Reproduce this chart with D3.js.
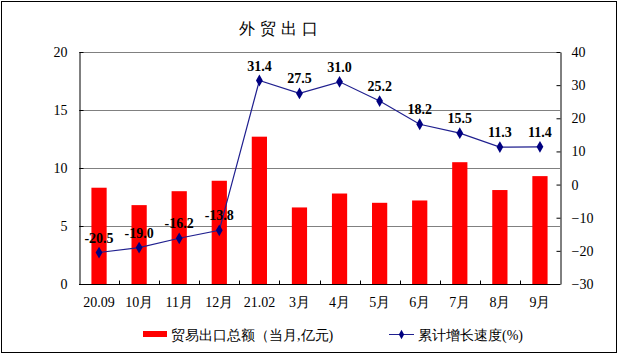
<!DOCTYPE html>
<html lang='zh'>
<head>
<meta charset='utf-8'>
<title>外贸出口</title>
<script src='https://cdn.jsdelivr.net/npm/d3@7'></script>
<style>
body { margin: 0; background: #fff; }
svg text { font-family: 'Liberation Serif', 'Times New Roman', serif; }
</style>
</head>
<body>
<script>
var months = ['20.09', '10月', '11月', '12月', '21.02', '3月', '4月', '5月', '6月', '7月', '8月', '9月'];
var exportValue = [8.3, 6.8, 8.0, 8.9, 12.7, 6.6, 7.8, 7.0, 7.2, 10.5, 8.1, 9.3];
var growthRate = [-20.5, -19.0, -16.2, -13.8, 31.4, 27.5, 31.0, 25.2, 18.2, 15.5, 11.3, 11.4];
var leftTicks = [0, 5, 10, 15, 20];
var rightTicks = [-30, -20, -10, 0, 10, 20, 30, 40];

var width = 618, height = 354;
var m = {left: 79, right: 58, top: 52, bottom: 70};
var svg = d3.select('body').append('svg').attr('width', width).attr('height', height);

svg.append('rect').attr('x', 1.5).attr('y', 1.5).attr('width', width - 3).attr('height', height - 3)
	.attr('fill', '#fff').attr('stroke', '#000').attr('stroke-width', 1);

var x = d3.scaleBand().domain(months).range([m.left, width - m.right]).paddingInner(0.62).paddingOuter(0.31);
var yL = d3.scaleLinear().domain([0, 20]).range([height - m.bottom, m.top]);
var yR = d3.scaleLinear().domain([-30, 40]).range([height - m.bottom, m.top]);

// gridlines
svg.append('g').selectAll('line').data(leftTicks.slice(1)).enter().append('line')
	.attr('x1', m.left).attr('x2', width - m.right)
	.attr('y1', d => Math.round(yL(d)) + 0.5).attr('y2', d => Math.round(yL(d)) + 0.5)
	.attr('stroke', '#808080').attr('stroke-width', 1);

// bars
svg.append('g').selectAll('rect').data(exportValue).enter().append('rect')
	.attr('x', (d, i) => x(months[i]))
	.attr('width', x.bandwidth())
	.attr('y', d => yL(d))
	.attr('height', d => yL(0) - yL(d))
	.attr('fill', '#ff0000');

// axes
var axL = svg.append('g').attr('transform', 'translate(' + (m.left + 0.5) + ',0)')
	.call(d3.axisLeft(yL).tickValues(leftTicks).tickSizeInner(-4).tickSizeOuter(0).tickPadding(12));
var axR = svg.append('g').attr('transform', 'translate(' + (width - m.right + 0.5) + ',0)')
	.call(d3.axisRight(yR).tickValues(rightTicks).tickSizeInner(-4).tickSizeOuter(0).tickPadding(11));
var xBand = d3.scalePoint().domain(d3.range(13)).range([m.left, width - m.right]);
var axB = svg.append('g').attr('transform', 'translate(0,' + (height - m.bottom + 0.5) + ')');
axB.append('line').attr('x1', m.left).attr('x2', width - m.right).attr('stroke', '#000');
axB.selectAll('line.tk').data(d3.range(1, 12)).enter().append('line').attr('class', 'tk')
	.attr('x1', d => Math.round(xBand(d)) + 0.5).attr('x2', d => Math.round(xBand(d)) + 0.5)
	.attr('y1', 0).attr('y2', -4).attr('stroke', '#000');
axB.selectAll('text').data(months).enter().append('text')
	.attr('x', d => x(d) + x.bandwidth() / 2).attr('y', 22)
	.attr('text-anchor', 'middle').attr('font-size', 14).attr('fill', '#000')
	.text(d => d);

[axL, axR].forEach(function (a) {
	a.select('.domain').attr('stroke', '#000');
	a.selectAll('.tick line').attr('stroke', '#000');
	a.selectAll('.tick text').attr('font-size', 14).attr('fill', '#000')
		.attr('font-family', "'Liberation Serif', serif");
});

// line
var cx = (d, i) => x(months[i]) + x.bandwidth() / 2;
svg.append('path').datum(growthRate)
	.attr('d', d3.line().x(cx).y(d => yR(d)))
	.attr('fill', 'none').attr('stroke', '#1f1f8f').attr('stroke-width', 1.2);
svg.append('g').selectAll('path').data(growthRate).enter().append('path')
	.attr('d', d3.symbol().type(d3.symbolDiamond).size(40))
	.attr('transform', (d, i) => 'translate(' + cx(d, i) + ',' + yR(d) + ')')
	.attr('fill', '#000080');
svg.append('g').selectAll('text').data(growthRate).enter().append('text')
	.attr('x', cx).attr('y', d => yR(d) - 10)
	.attr('text-anchor', 'middle').attr('font-size', 14).attr('font-weight', 'bold').attr('fill', '#000')
	.text(d => d.toFixed(1));

// title
svg.append('text').attr('x', 281).attr('y', 34).attr('text-anchor', 'middle')
	.attr('font-family', "'Noto Sans CJK SC', sans-serif").attr('font-size', 16).attr('font-weight', 300)
	.attr('letter-spacing', 5).attr('fill', '#000').text('外贸出口');

// legend
var lg = svg.append('g').attr('font-family', "'Noto Sans CJK SC', sans-serif").attr('font-size', 14);
lg.append('rect').attr('x', 143).attr('y', 331).attr('width', 24).attr('height', 6).attr('fill', '#ff0000');
lg.append('text').attr('x', 171).attr('y', 339.5).text('贸易出口总额（当月,亿元)');
lg.append('line').attr('x1', 389).attr('x2', 414).attr('y1', 334.5).attr('y2', 334.5).attr('stroke', '#1f1f8f');
lg.append('path').attr('d', d3.symbol().type(d3.symbolDiamond).size(25)).attr('transform', 'translate(401.5,334.5)').attr('fill', '#000080');
lg.append('text').attr('x', 418).attr('y', 339.5).text('累计增长速度(%)');
</script>
</body>
</html>
